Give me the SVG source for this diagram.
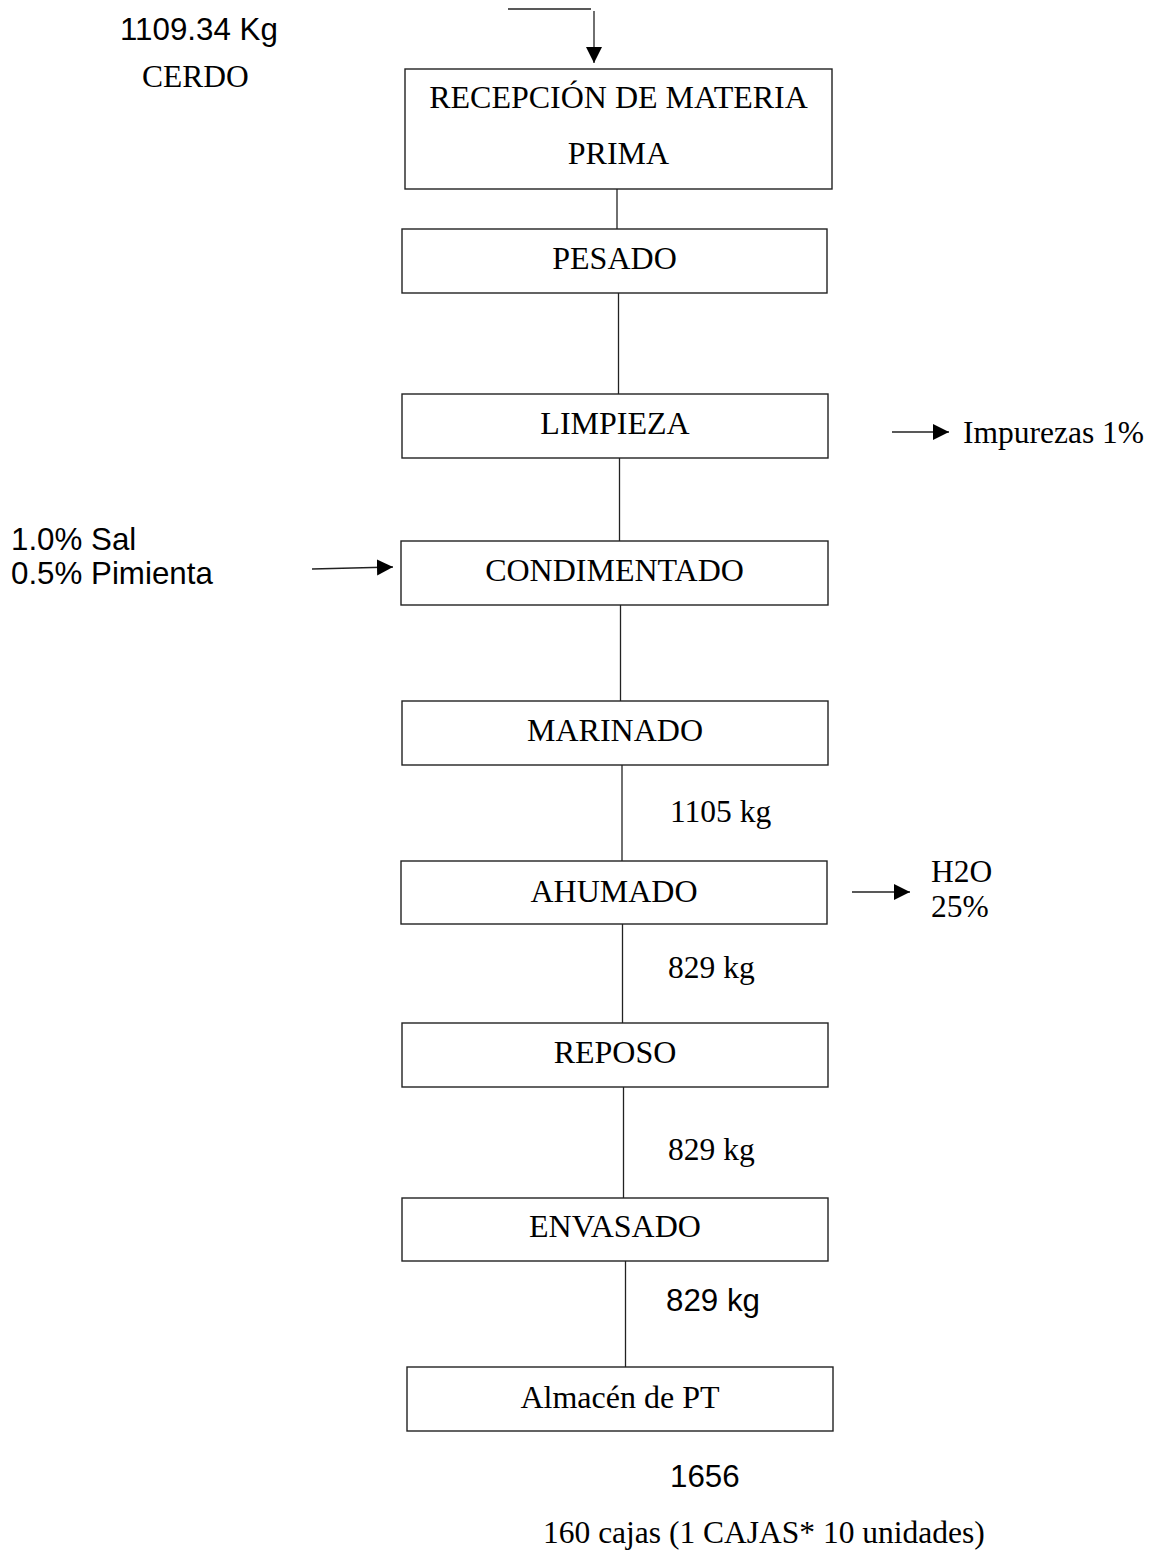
<svg xmlns="http://www.w3.org/2000/svg" width="1157" height="1551" viewBox="0 0 1157 1551">
<style>
.box{fill:#fff;stroke:#222;stroke-width:1.4}
.ln{stroke:#222;stroke-width:1.3;fill:none}
.t{font-family:"Liberation Serif","Times New Roman",serif;font-size:31.5px;fill:#000}
.b{font-size:32px}
.c{text-anchor:middle}
.a{font-family:"Liberation Sans",Arial,sans-serif;font-size:31.3px;fill:#000}
</style>
<defs>
<marker id="ah" markerUnits="userSpaceOnUse" markerWidth="18" markerHeight="18" refX="16" refY="8" orient="auto">
<path d="M0,0 L16,8 L0,16 Z" fill="#000"/>
</marker>
</defs>
<rect width="1157" height="1551" fill="#fff"/>
<g id="connectors">
<line class="ln" x1="508" y1="9" x2="591" y2="9"/>
<line class="ln" x1="594" y1="11" x2="594" y2="63" marker-end="url(#ah)"/>
<line class="ln" x1="617" y1="189" x2="617" y2="229"/>
<line class="ln" x1="618.5" y1="293" x2="618.5" y2="394"/>
<line class="ln" x1="619.5" y1="458" x2="619.5" y2="541"/>
<line class="ln" x1="620.5" y1="605" x2="620.5" y2="701"/>
<line class="ln" x1="622" y1="765" x2="622" y2="861"/>
<line class="ln" x1="622.5" y1="924" x2="622.5" y2="1023"/>
<line class="ln" x1="623.5" y1="1087" x2="623.5" y2="1198"/>
<line class="ln" x1="625.5" y1="1261" x2="625.5" y2="1367"/>
<line class="ln" x1="892" y1="432" x2="949" y2="432" marker-end="url(#ah)"/>
<line class="ln" x1="312" y1="569" x2="393" y2="567" marker-end="url(#ah)"/>
<line class="ln" x1="852" y1="892" x2="910" y2="892" marker-end="url(#ah)"/>
</g>
<g id="recepcion">
<rect class="box" x="405" y="69" width="427" height="120"/>
<text class="t b c" x="618.5" y="108">RECEPCIÓN DE MATERIA</text>
<text class="t b c" x="618.5" y="164">PRIMA</text>
</g>
<g id="pesado">
<rect class="box" x="402" y="229" width="425" height="64"/>
<text class="t b c" x="614.5" y="269">PESADO</text>
</g>
<g id="limpieza">
<rect class="box" x="402" y="394" width="426" height="64"/>
<text class="t b c" x="615" y="434">LIMPIEZA</text>
</g>
<g id="condimentado">
<rect class="box" x="401" y="541" width="427" height="64"/>
<text class="t b c" x="614.5" y="581">CONDIMENTADO</text>
</g>
<g id="marinado">
<rect class="box" x="402" y="701" width="426" height="64"/>
<text class="t b c" x="615" y="741">MARINADO</text>
</g>
<g id="ahumado">
<rect class="box" x="401" y="861" width="426" height="63"/>
<text class="t b c" x="614" y="902">AHUMADO</text>
</g>
<g id="reposo">
<rect class="box" x="402" y="1023" width="426" height="64"/>
<text class="t b c" x="615" y="1063">REPOSO</text>
</g>
<g id="envasado">
<rect class="box" x="402" y="1198" width="426" height="63"/>
<text class="t b c" x="615" y="1237">ENVASADO</text>
</g>
<g id="almacen">
<rect class="box" x="407" y="1367" width="426" height="64"/>
<text class="t b c" x="620" y="1408">Almacén de PT</text>
</g>
<g id="labels">
<text class="a" x="120" y="40">1109.34 Kg</text>
<text class="t" x="142" y="87">CERDO</text>
<text class="a" x="11" y="550">1.0% Sal</text>
<text class="a" x="11" y="584">0.5% Pimienta</text>
<text class="t" x="963" y="443">Impurezas 1%</text>
<text class="t" x="931" y="882">H2O</text>
<text class="t" x="931" y="917">25%</text>
<text class="t" x="670" y="822">1105 kg</text>
<text class="t" x="668" y="978">829 kg</text>
<text class="t" x="668" y="1160">829 kg</text>
<text class="a" x="666" y="1311">829 kg</text>
<text class="a" x="670" y="1487">1656</text>
<text class="t" x="543" y="1543">160 cajas (1 CAJAS* 10 unidades)</text>
</g>
</svg>
